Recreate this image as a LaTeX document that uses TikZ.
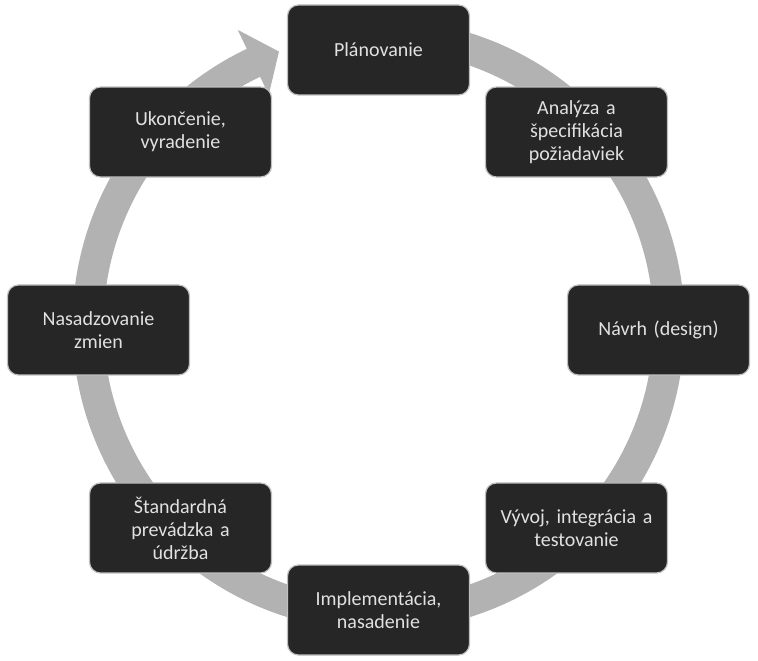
\documentclass[tikz,border=0pt]{standalone}
\usepackage{fontspec}
\setmainfont{Carlito}
\usepackage{tikz}

\definecolor{ringgray}{RGB}{178,178,178}
\definecolor{boxfill}{RGB}{38,38,38}
\definecolor{boxtext}{RGB}{225,225,225}

\tikzset{
  stage/.style={rectangle, rounded corners=11pt, fill=boxfill, draw=black!25,
    line width=1.2pt, minimum width=182pt, minimum height=90pt,
    text width=172pt, align=center, text=boxtext,
    font=\fontsize{20pt}{23pt}\selectfont},
}

\begin{document}
\begin{tikzpicture}[x=1pt,y=1pt]
  \def\ro{306}
  \def\ri{275}
  \def\rb{280}
  \useasboundingbox (-378.5,-331) rectangle (379.5,330);
  \begin{scope}[shift={(0,5)}]
    \fill [ringgray] (80:\ro) arc [start angle=80, end angle=-244.5, radius=\ro]
      -- (-244.5:327) -- (-250:291) -- (-244.5:255) -- (-244.5:\ri)
      arc [start angle=-244.5, end angle=80, radius=\ri] -- cycle;
  \end{scope}
  \node [stage] (plan)  at (90:\rb)  {Plánovanie};
  \node [stage] (anal)  at (45:\rb)  {Analýza a\\ špecifikácia\\ požiadaviek};
  \node [stage] (navrh) at (0:\rb)   {Návrh (design)};
  \node [stage] (vyvoj) at (-45:\rb) {Vývoj, integrácia a\\ testovanie};
  \node [stage] (impl)  at (-90:\rb) {Implementácia,\\ nasadenie};
  \node [stage] (stand) at (-135:\rb) {Štandardná\\ prevádzka a\\ údržba};
  \node [stage] (nasad) at (180:\rb) {Nasadzovanie\\ zmien};
  \node [stage] (ukonc) at (135:\rb) {Ukončenie,\\ vyradenie};
\end{tikzpicture}
\end{document}
